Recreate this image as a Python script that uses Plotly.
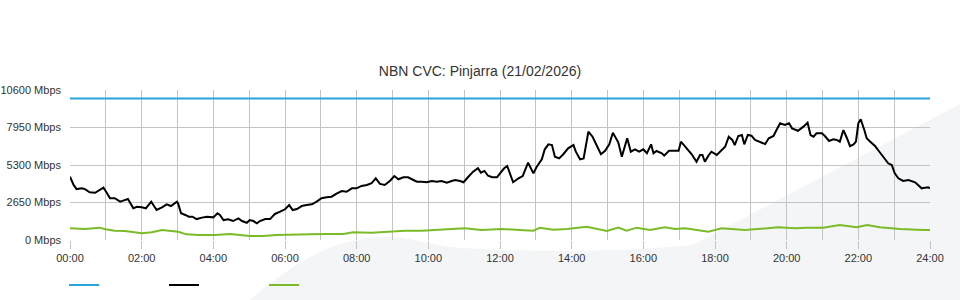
import plotly.graph_objects as go

chart_title = "NBN CVC: Pinjarra (21/02/2026)"

y_tick_values = [0, 2650, 5300, 7950, 10600]
y_tick_labels = ["0 Mbps", "2650 Mbps", "5300 Mbps", "7950 Mbps", "10600 Mbps"]
x_tick_values = [0, 120, 240, 360, 480, 600, 720, 840, 960, 1080, 1200, 1320, 1440]
x_tick_labels = ["00:00", "02:00", "04:00", "06:00", "08:00", "10:00", "12:00",
                 "14:00", "16:00", "18:00", "20:00", "22:00", "24:00"]

capacity_minutes = [0, 1440]
capacity_mbps = [10000, 10000]

download_minutes = [
    0, 6, 11, 20, 25, 33, 42, 50, 56, 61, 67, 75, 84, 89, 97, 106, 112, 120, 127, 136,
    145, 154, 162, 169, 179, 181, 186, 193, 199, 205, 212, 221, 229, 240, 247, 251, 257, 265, 273, 282,
    288, 296, 301, 307, 313, 318, 327, 335, 343, 352, 360, 367, 373, 380, 388, 396, 405, 413, 421, 430,
    438, 447, 455, 463, 472, 480, 488, 497, 505, 512, 519, 527, 536, 543, 550, 558, 566, 575, 581, 589,
    597, 606, 614, 622, 631, 639, 645, 653, 659, 667, 675, 683, 688, 694, 700, 707, 715, 720, 727, 732,
    742, 751, 758, 767, 776, 781, 790, 795, 801, 807, 812, 819, 826, 834, 843, 847, 854, 860, 868, 875,
    882, 889, 896, 903, 909, 918, 924, 933, 939, 946, 953, 960, 966, 973, 977, 982, 991, 995, 1003, 1010,
    1019, 1023, 1030, 1035, 1041, 1049, 1055, 1059, 1063, 1069, 1074, 1083, 1090, 1097, 1103, 1109, 1113, 1119, 1125, 1129,
    1135, 1141, 1147, 1155, 1164, 1170, 1178, 1183, 1189, 1197, 1204, 1209, 1219, 1228, 1235, 1240, 1245, 1250, 1259, 1264,
    1271, 1278, 1284, 1289, 1295, 1301, 1306, 1312, 1316, 1320, 1324, 1330, 1334, 1340, 1348, 1353, 1362, 1370, 1376, 1381,
    1387, 1395, 1404, 1409, 1415, 1420, 1426, 1432, 1437, 1440,
]
download_mbps = [
    4470, 3890, 3600, 3650, 3600, 3370, 3340, 3530, 3700, 3370, 2950, 2950, 2710, 2780, 2900, 2240, 2350, 2310, 2240, 2710,
    2120, 2310, 2520, 2400, 2710, 2590, 1890, 1770, 1650, 1650, 1480, 1580, 1650, 1600, 1890, 1770, 1410, 1460, 1340, 1530,
    1340, 1220, 1410, 1340, 1180, 1340, 1480, 1480, 1840, 2000, 2170, 2470, 2120, 2190, 2400, 2470, 2520, 2710, 2950, 3020,
    3060, 3300, 3460, 3410, 3650, 3650, 3820, 3890, 4010, 4360, 3960, 3890, 4190, 4520, 4290, 4430, 4430, 4240, 4120, 4120,
    4080, 4170, 4120, 4170, 4050, 4170, 4240, 4170, 4080, 4470, 4830, 5070, 4760, 4880, 4540, 4430, 4430, 4710, 5070, 5230,
    4080, 4360, 4520, 5460, 4710, 5140, 5700, 6410, 6760, 6710, 5890, 5770, 6060, 6480, 6710, 6240, 5700, 5770, 7650, 7300,
    6640, 6060, 6310, 6760, 7580, 6900, 5890, 7190, 6240, 6410, 6240, 6410, 6130, 6760, 6130, 6290, 6130, 5960, 6310, 6310,
    6310, 6950, 6590, 6410, 6060, 5530, 6010, 6010, 5530, 5960, 6240, 6010, 6290, 6590, 7300, 7070, 6710, 7350, 7420, 6760,
    7420, 7370, 7070, 6950, 6780, 7190, 7350, 7770, 8250, 8130, 8250, 7890, 7720, 8010, 8290, 7420, 7300, 7540, 7540, 7350,
    7000, 7120, 7070, 6950, 7770, 7190, 6640, 6760, 6950, 8250, 8530, 7770, 7190, 6950, 6640, 6360, 5820, 5420, 5300, 4710,
    4360, 4170, 4240, 4170, 4080, 3890, 3650, 3700, 3720, 3650,
]

upload_minutes = [
    0, 25, 50, 59, 75, 92, 120, 137, 154, 181, 195, 215, 243, 268, 301, 323, 346, 373, 402, 430,
    458, 474, 505, 533, 561, 589, 617, 645, 661, 689, 723, 753, 776, 787, 809, 832, 865, 899, 918, 932,
    949, 971, 996, 1013, 1030, 1069, 1091, 1130, 1158, 1186, 1214, 1234, 1261, 1289, 1317, 1335, 1356, 1390, 1429, 1440,
]
upload_mbps = [
    827, 777, 872, 754, 660, 636, 473, 541, 707, 587, 400, 353, 353, 424, 283, 283, 353, 353, 400, 424,
    424, 541, 518, 587, 660, 660, 707, 777, 827, 707, 777, 707, 660, 872, 729, 777, 943, 636, 872, 660,
    872, 707, 895, 777, 827, 587, 827, 707, 777, 895, 827, 872, 872, 1060, 895, 1060, 895, 777, 707, 707,
]

font_family = "Liberation Sans, Arial, sans-serif"
grid_color = "#c4c4c4"

fig = go.Figure()
fig.add_trace(go.Scatter(x=capacity_minutes, y=capacity_mbps, mode="lines", name=" ",
                         line=dict(color="#29a3dc", width=2)))
fig.add_trace(go.Scatter(x=download_minutes, y=download_mbps, mode="lines", name=" ",
                         line=dict(color="#000000", width=2)))
fig.add_trace(go.Scatter(x=upload_minutes, y=upload_mbps, mode="lines", name=" ",
                         line=dict(color="#7cbb28", width=2)))

# faint background swoosh decoration
fig.add_shape(type="path", xref="paper", yref="paper", layer="below",
              path=("M 0.209,-0.4 C 0.26,-0.15 0.31,0.03 0.372,0.02 "
                    "C 0.40,0.015 0.42,-0.04 0.46,-0.055 "
                    "C 0.55,-0.085 0.65,-0.075 0.724,-0.033 "
                    "L 1.035,0.907 L 1.035,-0.4 Z"),
              fillcolor="#f4f5f7", line=dict(width=0))

fig.update_layout(
    width=960, height=300,
    margin=dict(l=70, r=30, t=90, b=60, autoexpand=False),
    paper_bgcolor="#ffffff",
    plot_bgcolor="rgba(0,0,0,0)",
    font=dict(family=font_family, size=11, color="#333333"),
    title=dict(text=chart_title, x=0.5, xanchor="center", y=1 - 71 / 300, yanchor="middle",
               font=dict(family=font_family, size=14, color="#333333")),
    showlegend=True,
    legend=dict(orientation="h", x=-6 / 860, xanchor="left",
                yref="container", y=15 / 300, yanchor="middle",
                entrywidth=55, entrywidthmode="pixels", itemwidth=30,
                font=dict(size=11), bgcolor="rgba(0,0,0,0)"),
    hovermode=False,
)
fig.update_xaxes(
    range=[0, 1440], tickmode="array", tickvals=x_tick_values, ticktext=x_tick_labels,
    showgrid=True, gridcolor=grid_color, gridwidth=1,
    ticks="outside", ticklen=8, tickcolor=grid_color,
    minor=dict(dtick=60, tick0=0, showgrid=True, gridcolor=grid_color, gridwidth=1, ticks=""),
    zeroline=False, showline=False, fixedrange=True, automargin=False,
    tickfont=dict(size=11, color="#333333"),
)
fig.update_yaxes(
    range=[0, 10600], tickmode="array", tickvals=y_tick_values, ticktext=y_tick_labels,
    showgrid=True, gridcolor=grid_color, gridwidth=1,
    ticks="", ticklabelstandoff=8,
    zeroline=False, showline=False, fixedrange=True, automargin=False,
    tickfont=dict(size=11, color="#333333"),
)

fig.write_html("out.html")
